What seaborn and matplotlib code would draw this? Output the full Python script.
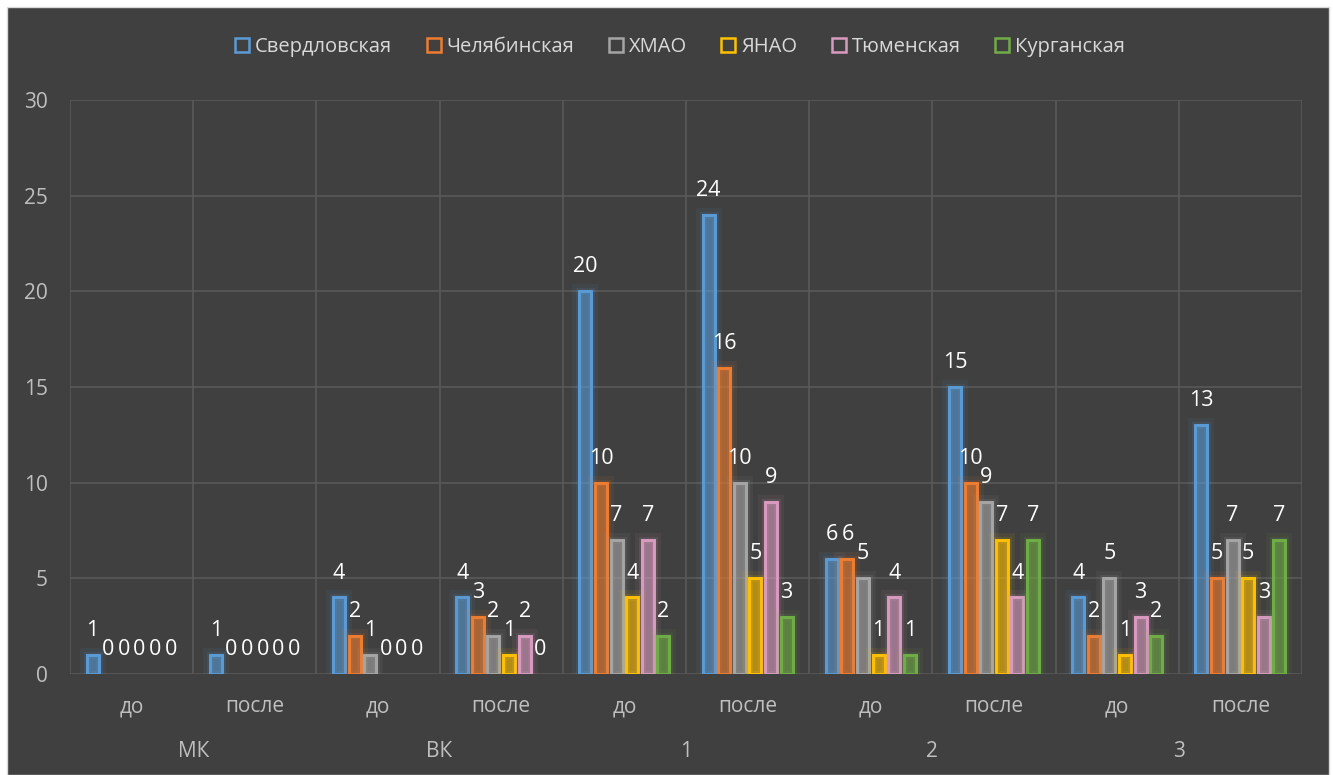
import matplotlib
matplotlib.use("Agg")
import matplotlib.pyplot as plt
import matplotlib.patheffects as pe
from matplotlib.patches import Patch, Rectangle
import matplotlib.transforms as mtransforms
import seaborn as sns
import pandas as pd

regions = ["Свердловская", "Челябинская", "ХМАО", "ЯНАО", "Тюменская", "Курганская"]
colors = ["#5B9BD5", "#ED7D31", "#A5A5A5", "#FFC000", "#D89BBF", "#70AD47"]
groups = ["МК", "ВК", "1", "2", "3"]
phases = ["до", "после"]

sverdl = [1, 1, 4, 4, 20, 24, 6, 15, 4, 13]
chelyab = [0, 0, 2, 3, 10, 16, 6, 10, 2, 5]
hmao = [0, 0, 1, 2, 7, 10, 5, 9, 5, 7]
yanao = [0, 0, 0, 1, 4, 5, 1, 7, 1, 5]
tyumen = [0, 0, 0, 2, 7, 9, 4, 4, 3, 3]
kurgan = [0, 0, 0, 0, 2, 3, 1, 7, 2, 7]
series = [sverdl, chelyab, hmao, yanao, tyumen, kurgan]

cats = [f"{g} {p}" for g in groups for p in phases]
rows = []
for reg, vals in zip(regions, series):
    for c, v in zip(cats, vals):
        rows.append({"cat": c, "region": reg, "value": v})
df = pd.DataFrame(rows)

BG = "#404040"
sns.set_theme(style="dark")
plt.rcParams["font.family"] = ["Open Sans", "DejaVu Sans"]

fig = plt.figure(figsize=(13.33, 7.75), dpi=100)
fig.patch.set_facecolor("#FFFFFF")
fig.patches.append(Rectangle((7 / 1333, 0), (1329 - 7) / 1333, 1 - 7 / 775,
                             transform=fig.transFigure, facecolor=BG,
                             edgecolor="#D9D9D9", linewidth=1, zorder=-10))
ax = fig.add_axes([70 / 1333, 1 - 674 / 775, (1302 - 70) / 1333, (674 - 100) / 775])
ax.set_facecolor(BG)

sns.barplot(data=df, x="cat", y="value", hue="region", order=cats, hue_order=regions,
            palette=colors, width=0.76, gap=0.22, ax=ax, legend=False, zorder=3)

for container, col in zip(ax.containers, colors):
    for bar in container:
        if bar.get_height() == 0:
            bar.set_visible(False)
            continue
        bar.set_facecolor(matplotlib.colors.to_rgba(col, 0.2))
        bar.set_edgecolor(col)
        bar.set_linewidth(1.8)
        bar.set_path_effects([pe.withStroke(linewidth=10, foreground=col, alpha=0.07),
                              pe.withStroke(linewidth=5, foreground=col, alpha=0.12),
                              pe.Normal()])
    ax.bar_label(container, labels=[f"{int(b.get_height())}" for b in container],
                 padding=10, color="white", fontsize=15.5)

ax.set_ylim(0, 30)
ax.set_xlim(-0.5, len(cats) - 0.5)
ax.set_yticks(range(0, 31, 5))
ax.set_xticks(range(len(cats)))
ax.set_xticklabels([p for g in groups for p in phases])
ax.set_xticks([i + 0.5 for i in range(len(cats))], minor=True)
ax.tick_params(axis="y", colors="#BFBFBF", labelsize=15, length=0, pad=16)
ax.tick_params(axis="x", which="both", colors="#BFBFBF", labelsize=15, length=0, pad=16)
ax.set_xlabel("")
ax.set_ylabel("")
ax.grid(axis="y", color="#595959", linewidth=1.2, zorder=0)
ax.grid(axis="x", which="minor", color="#595959", linewidth=1.2, zorder=0)
ax.grid(axis="x", which="major", visible=False)
ax.axvline(-0.5, color="#595959", linewidth=1.2, zorder=0)
ax.set_axisbelow(True)
for s in ax.spines.values():
    s.set_visible(False)

trans = mtransforms.blended_transform_factory(ax.transData, ax.transAxes)
for i, g in enumerate(groups):
    ax.text(2 * i + 0.5, -0.135, g, transform=trans, ha="center", va="center",
            color="#BFBFBF", fontsize=15)

handles = [Patch(facecolor="none", edgecolor=c, linewidth=1.8, label=r) for r, c in zip(regions, colors)]
leg = fig.legend(handles=handles, loc="center", bbox_to_anchor=(680 / 1333, 1 - 47 / 775),
                 ncol=6, frameon=False, fontsize=14.5, handlelength=0.7, handleheight=0.7,
                 handletextpad=0.3, columnspacing=1.7, labelcolor="#D9D9D9")

fig.savefig("out.png", dpi=100, facecolor=fig.get_facecolor())
